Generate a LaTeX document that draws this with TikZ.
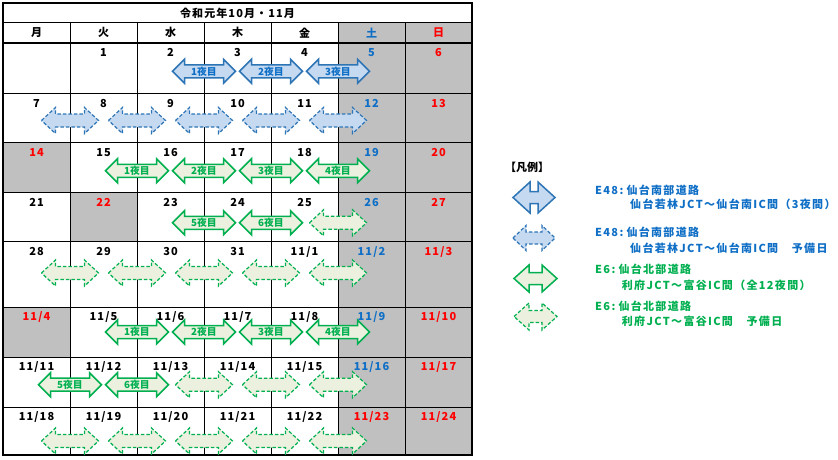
\documentclass[tikz,border=0pt]{standalone}
\usepackage{fontspec}
\newfontfamily\jp{Noto Sans CJK JP}
\newfontfamily\jpd{Noto Sans CJK JP}[LetterSpace=10]
\newfontfamily\jpl{Noto Sans CJK JP}[LetterSpace=12]
\definecolor{tblue}{HTML}{0F6FC6}
\definecolor{tred}{HTML}{FF0000}
\definecolor{cgray}{HTML}{C0C0C0}
\definecolor{abord}{HTML}{2E75B6}
\definecolor{afill}{HTML}{C5D9F1}
\definecolor{gbord}{HTML}{00B050}
\definecolor{gfill}{HTML}{EBF1DE}
\definecolor{gtext}{HTML}{00B050}
\newcommand\DArr[7]{% style, cx, cy, L, H, s, head
  \draw[#1] ({#2-#4/2},{#3}) -- ++(#7,{-#5/2}) -- ++(0,{(#5-#6)/2}) -- ++({#4-2*#7},0)
   -- ++(0,{-(#5-#6)/2}) -- ({#2+#4/2},{#3}) -- ++({-#7},{#5/2}) -- ++(0,{-(#5-#6)/2})
   -- ++({-(#4-2*#7)},0) -- ++(0,{(#5-#6)/2}) -- cycle;}
\newcommand\SB[3]{\DArr{solidB}{#1}{#2}{63}{24}{13}{12}\node[alab,text=tblue] at (#1,#2) {#3};}
\newcommand\SG[3]{\DArr{solidG}{#1}{#2}{63}{24}{13}{12}\node[alab,text=gtext] at (#1,#2) {#3};}
\newcommand\DB[2]{\DArr{dashB}{#1}{#2}{57}{26}{13}{14}}
\newcommand\DG[2]{\DArr{dashG}{#1}{#2}{57}{26}{13}{14}}
\newcommand\lgcolon{\kern1.5pt:\kern3pt}
\tikzset{
  solidB/.style={draw=abord, fill=afill, line width=1.5pt, line join=miter},
  dashB/.style={draw=abord, fill=afill, line width=1.2pt, dash pattern=on 3.5pt off 2pt},
  solidG/.style={draw=gbord, fill=gfill, line width=1.5pt, line join=miter},
  dashG/.style={draw=gbord, fill=gfill, line width=1.2pt, dash pattern=on 3.5pt off 2pt},
  alab/.style={inner sep=0pt, font=\jp\bfseries\fontsize{9.8}{11}\selectfont},
  dl/.style={inner sep=0pt, font=\jpd\bfseries\fontsize{11}{13}\selectfont},
  hd/.style={inner sep=0pt, font=\jpd\bfseries\fontsize{11}{13}\selectfont},
  lg/.style={inner sep=0pt, anchor=west, font=\jpl\bfseries\fontsize{11}{13}\selectfont},
  thin/.style={line width=1pt, black},
}
\begin{document}
\begin{tikzpicture}[x=1pt,y=-1pt]
\useasboundingbox (0,0) rectangle (838,460);
\fill[white] (0,0) rectangle (838,460);
% gray cells
\fill[cgray] (338,22.7) rectangle (472,455.3);
\fill[cgray] (3,142.7) rectangle (70,192.3);
\fill[cgray] (70,192.3) rectangle (137,241.7);
\fill[cgray] (3,307.3) rectangle (70,357.3);
% grid
\foreach \y in {93.3,142.7,192.3,241.7,307.3,357.3,407.3} \draw[thin] (3,\y) -- (472,\y);
\foreach \x in {70,137,204,271,338,405} \draw[thin] (\x,22.7) -- (\x,455.3);
\draw[line width=1.6pt] (3,22.7) -- (472,22.7);
\draw[line width=2pt] (3,42.7) -- (472,42.7);
\draw[line width=2pt] (3,3) rectangle (472,455.3);
% title and header
\node[hd] (title) at (237.5,12.8) {令和元年10月・11月};
\node[hd] (h1) at (36.5,32.7) {月};
\node[hd] (h2) at (103.5,32.7) {火};
\node[hd] (h3) at (170.5,32.7) {水};
\node[hd] (h4) at (237.5,32.7) {木};
\node[hd] (h5) at (304.5,32.7) {金};
\node[hd,text=tblue] (h6) at (371.5,32.7) {土};
\node[hd,text=tred] (h7) at (438.5,32.7) {日};
% dates
\node[dl] (d11) at (103.5,52.7) {1};
\node[dl] (d12) at (170.5,52.7) {2};
\node[dl] (d13) at (237.5,52.7) {3};
\node[dl] (d14) at (304.5,52.7) {4};
\node[dl,text=tblue] (d15) at (371.5,52.7) {5};
\node[dl,text=tred] (d16) at (438.5,52.7) {6};
\node[dl] (d20) at (36.5,103.3) {7};
\node[dl] (d21) at (103.5,103.3) {8};
\node[dl] (d22) at (170.5,103.3) {9};
\node[dl] (d23) at (237.5,103.3) {10};
\node[dl] (d24) at (304.5,103.3) {11};
\node[dl,text=tblue] (d25) at (371.5,103.3) {12};
\node[dl,text=tred] (d26) at (438.5,103.3) {13};
\node[dl,text=tred] (d30) at (36.5,152.7) {14};
\node[dl] (d31) at (103.5,152.7) {15};
\node[dl] (d32) at (170.5,152.7) {16};
\node[dl] (d33) at (237.5,152.7) {17};
\node[dl] (d34) at (304.5,152.7) {18};
\node[dl,text=tblue] (d35) at (371.5,152.7) {19};
\node[dl,text=tred] (d36) at (438.5,152.7) {20};
\node[dl] (d40) at (36.5,202.3) {21};
\node[dl,text=tred] (d41) at (103.5,202.3) {22};
\node[dl] (d42) at (170.5,202.3) {23};
\node[dl] (d43) at (237.5,202.3) {24};
\node[dl] (d44) at (304.5,202.3) {25};
\node[dl,text=tblue] (d45) at (371.5,202.3) {26};
\node[dl,text=tred] (d46) at (438.5,202.3) {27};
\node[dl] (d50) at (36.5,251.7) {28};
\node[dl] (d51) at (103.5,251.7) {29};
\node[dl] (d52) at (170.5,251.7) {30};
\node[dl] (d53) at (237.5,251.7) {31};
\node[dl] (d54) at (304.5,251.7) {11/1};
\node[dl,text=tblue] (d55) at (371.5,251.7) {11/2};
\node[dl,text=tred] (d56) at (438.5,251.7) {11/3};
\node[dl,text=tred] (d60) at (36.5,317.3) {11/4};
\node[dl] (d61) at (103.5,317.3) {11/5};
\node[dl] (d62) at (170.5,317.3) {11/6};
\node[dl] (d63) at (237.5,317.3) {11/7};
\node[dl] (d64) at (304.5,317.3) {11/8};
\node[dl,text=tblue] (d65) at (371.5,317.3) {11/9};
\node[dl,text=tred] (d66) at (438.5,317.3) {11/10};
\node[dl] (d70) at (36.5,367.3) {11/11};
\node[dl] (d71) at (103.5,367.3) {11/12};
\node[dl] (d72) at (170.5,367.3) {11/13};
\node[dl] (d73) at (237.5,367.3) {11/14};
\node[dl] (d74) at (304.5,367.3) {11/15};
\node[dl,text=tblue] (d75) at (371.5,367.3) {11/16};
\node[dl,text=tred] (d76) at (438.5,367.3) {11/17};
\node[dl] (d80) at (36.5,417.3) {11/18};
\node[dl] (d81) at (103.5,417.3) {11/19};
\node[dl] (d82) at (170.5,417.3) {11/20};
\node[dl] (d83) at (237.5,417.3) {11/21};
\node[dl] (d84) at (304.5,417.3) {11/22};
\node[dl,text=tred] (d85) at (371.5,417.3) {11/23};
\node[dl,text=tred] (d86) at (438.5,417.3) {11/24};
% arrows
\SB{204}{71.3}{1夜目}\SB{271}{71.3}{2夜目}\SB{338}{71.3}{3夜目}
\DB{70}{120.5}\DB{137}{120.5}\DB{204}{120.5}\DB{271}{120.5}\DB{338}{120.5}
\SG{137}{170.8}{1夜目}\SG{204}{170.8}{2夜目}\SG{271}{170.8}{3夜目}\SG{338}{170.8}{4夜目}
\SG{204}{222.8}{5夜目}\SG{271}{222.8}{6夜目}\DG{338}{222.8}
\DG{70}{273}\DG{137}{273}\DG{204}{273}\DG{271}{273}\DG{338}{273}
\SG{137}{332}{1夜目}\SG{204}{332}{2夜目}\SG{271}{332}{3夜目}\SG{338}{332}{4夜目}
\SG{70}{384.7}{5夜目}\SG{137}{384.7}{6夜目}\DG{204}{384.7}\DG{271}{384.7}\DG{338}{384.7}
\DG{70}{441}\DG{137}{441}\DG{204}{441}\DG{271}{441}\DG{338}{441}
% legend
\node[inner sep=0pt, anchor=west, font=\jp\bfseries\fontsize{11}{13}\selectfont] (lgt) at (505,167) {【凡例】};
\DArr{solidB}{534}{197.5}{42}{31}{12}{17}
\DArr{dashB}{534}{238}{42}{25}{12}{13}
\DArr{solidG}{535.5}{278.5}{43}{27}{12}{15}
\DArr{dashG}{535.5}{316.5}{43}{27}{12}{15}
\node[lg,text=tblue] (l1a) at (595,190) {E48\lgcolon 仙台南部道路};
\node[lg,text=tblue] (l1b) at (630,204) {仙台若林JCT～仙台南IC間（3夜間）};
\node[lg,text=tblue] (l2a) at (595,232.7) {E48\lgcolon 仙台南部道路};
\node[lg,text=tblue] (l2b) at (630,248.3) {仙台若林JCT～仙台南IC間　予備日};
\node[lg,text=gtext] (l3a) at (595,269.3) {E6\lgcolon 仙台北部道路};
\node[lg,text=gtext] (l3b) at (621.7,285) {利府JCT～富谷IC間（全12夜間）};
\node[lg,text=gtext] (l4a) at (595,306.7) {E6\lgcolon 仙台北部道路};
\node[lg,text=gtext] (l4b) at (621.7,321.7) {利府JCT～富谷IC間　予備日};
\end{tikzpicture}
\end{document}
